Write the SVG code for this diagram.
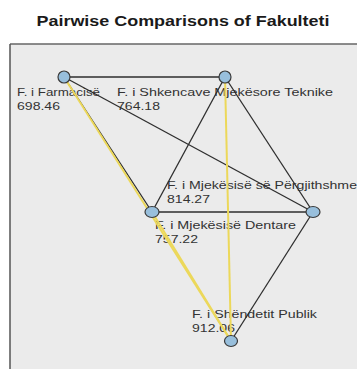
<svg xmlns="http://www.w3.org/2000/svg" width="357" height="369" viewBox="0 0 357 369">
  <style>
    .title { font-family: "Liberation Sans", Arial, sans-serif; font-weight: bold; font-size: 15.5px; fill: #1a1a1a; }
    .lbl { font-family: "Liberation Sans", Arial, sans-serif; font-size: 11.5px; fill: #333333; }
    .e { stroke: #2e2e2e; stroke-width: 1.3; fill: none; }
    .y { stroke: #ecd85a; stroke-width: 2; fill: none; }
    .n { fill: #98bfdc; stroke: #3a3a3a; stroke-width: 1.2; }
  </style>
  <rect x="0" y="0" width="357" height="369" fill="#ffffff"/>
  <text class="title" x="183" y="26" text-anchor="middle" textLength="293" lengthAdjust="spacingAndGlyphs">Pairwise Comparisons of Fakulteti</text>
  <g id="panel">
    <rect x="10" y="44" width="347" height="325" fill="#ebebeb"/>
    <line x1="10" y1="44" x2="357" y2="44" stroke="#666666" stroke-width="1.5"/>
    <line x1="10" y1="44" x2="10" y2="369" stroke="#555555" stroke-width="1.5"/>
  </g>
  <g id="labels">
    <text class="lbl" x="17" y="96" textLength="83" lengthAdjust="spacingAndGlyphs">F. i Farmacisë</text>
    <text class="lbl" x="17" y="110" textLength="43" lengthAdjust="spacingAndGlyphs">698.46</text>
    <text class="lbl" x="117" y="96" textLength="216" lengthAdjust="spacingAndGlyphs">F. i Shkencave Mjekësore Teknike</text>
    <text class="lbl" x="117" y="110" textLength="43" lengthAdjust="spacingAndGlyphs">764.18</text>
    <text class="lbl" x="167" y="189" textLength="190" lengthAdjust="spacingAndGlyphs">F. i Mjekësisë së Përgjithshme</text>
    <text class="lbl" x="167" y="203" textLength="43" lengthAdjust="spacingAndGlyphs">814.27</text>
    <text class="lbl" x="155" y="229" textLength="141" lengthAdjust="spacingAndGlyphs">F. i Mjekësisë Dentare</text>
    <text class="lbl" x="155" y="243" textLength="43" lengthAdjust="spacingAndGlyphs">757.22</text>
    <text class="lbl" x="192" y="318" textLength="125" lengthAdjust="spacingAndGlyphs">F. i Shëndetit Publik</text>
    <text class="lbl" x="192" y="332" textLength="43" lengthAdjust="spacingAndGlyphs">912.06</text>
  </g>
  <g id="connectors">
    <line class="e" x1="64" y1="77" x2="225" y2="77"/>
    <line class="e" x1="64" y1="77" x2="313" y2="212"/>
    <line class="e" x1="64" y1="77" x2="152" y2="212"/>
    <line class="e" x1="225" y1="77" x2="152" y2="212"/>
    <line class="e" x1="225" y1="77" x2="313" y2="212"/>
    <line class="e" x1="152" y1="212" x2="313" y2="212"/>
    <line class="e" x1="313" y1="212" x2="231" y2="341"/>
    <line class="y" x1="64" y1="77" x2="231" y2="341"/>
    <line class="y" x1="152" y1="212" x2="231" y2="341"/>
    <line class="y" x1="225" y1="77" x2="231" y2="341"/>
  </g>
  <g id="node-farmacise"><circle class="n" cx="64" cy="77" r="6"/></g>
  <g id="node-shkencave"><circle class="n" cx="225" cy="77" r="6"/></g>
  <g id="node-dentare"><ellipse class="n" cx="152" cy="212" rx="7" ry="5.5"/></g>
  <g id="node-pergjithshme"><ellipse class="n" cx="313" cy="212" rx="7" ry="5.5"/></g>
  <g id="node-shendetit"><ellipse class="n" cx="231" cy="341" rx="6.5" ry="5.5"/></g>
</svg>
